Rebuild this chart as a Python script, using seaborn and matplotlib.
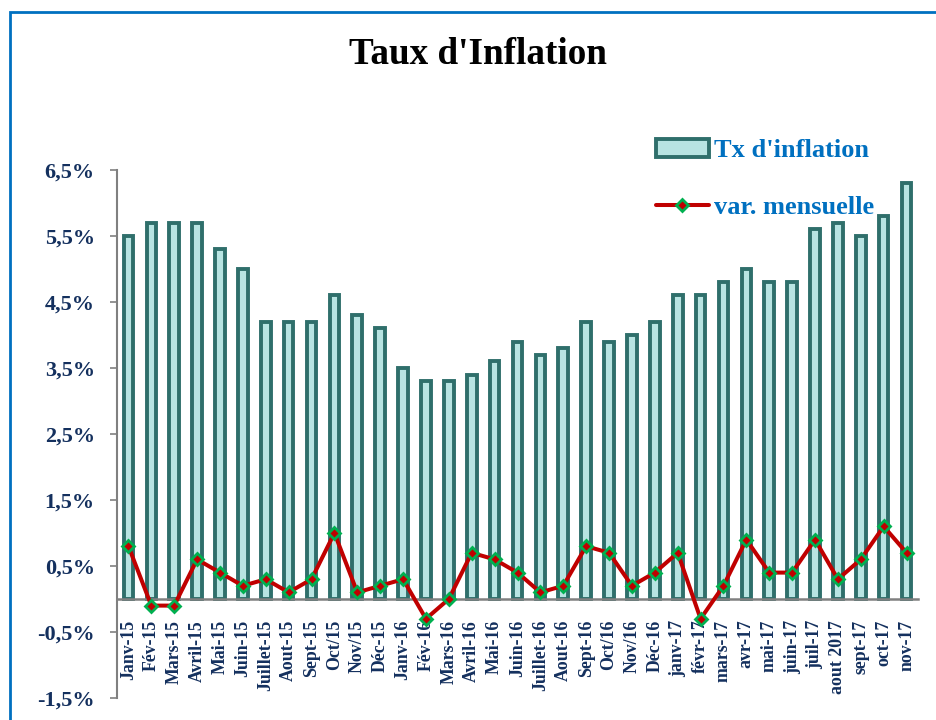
import numpy as np
import pandas as pd
import matplotlib
matplotlib.use('Agg')
import matplotlib.pyplot as plt
import seaborn as sns
from matplotlib.patches import Patch, Rectangle
from matplotlib.lines import Line2D
from matplotlib.ticker import FuncFormatter

# Data
mois = ['Janv-15', 'Fév-15', 'Mars-15', 'Avril-15', 'Mai-15', 'Juin-15',
        'Juillet-15', 'Aout-15', 'Sept-15', 'Oct/15', 'Nov/15', 'Déc-15',
        'Janv-16', 'Fév-16', 'Mars-16', 'Avril-16', 'Mai-16', 'Juin-16',
        'Juillet-16', 'Aout-16', 'Sept-16', 'Oct/16', 'Nov/16', 'Déc-16',
        'janv-17', 'févr-17', 'mars-17', 'avr-17', 'mai-17', 'juin-17',
        'juil-17', 'aout 2017', 'sept-17', 'oct-17', 'nov-17']
tx_inflation = [5.5, 5.7, 5.7, 5.7, 5.3, 5.0, 4.2, 4.2, 4.2, 4.6, 4.3, 4.1,
                3.5, 3.3, 3.3, 3.4, 3.6, 3.9, 3.7, 3.8, 4.2, 3.9, 4.0, 4.2,
                4.6, 4.6, 4.8, 5.0, 4.8, 4.8, 5.6, 5.7, 5.5, 5.8, 6.3]
var_mensuelle = [0.8, -0.1, -0.1, 0.6, 0.4, 0.2, 0.3, 0.1, 0.3, 1.0, 0.1, 0.2,
                 0.3, -0.3, 0.0, 0.7, 0.6, 0.4, 0.1, 0.2, 0.8, 0.7, 0.2, 0.4,
                 0.7, -0.3, 0.2, 0.9, 0.4, 0.4, 0.9, 0.3, 0.6, 1.1, 0.7]
y_ticks = [-1.5, -0.5, 0.5, 1.5, 2.5, 3.5, 4.5, 5.5, 6.5]

df = pd.DataFrame({'mois': mois, 'tx': tx_inflation, 'var': var_mensuelle})

# Colours
fill_col = '#B8E4E2'
edge_col = '#2F6F6B'
red = '#C00000'
green = '#00B050'
navy = '#14305E'
blue = '#0070C0'

sns.set_style('white')
plt.rcParams['font.family'] = ['Liberation Serif', 'DejaVu Serif']
plt.rcParams['font.weight'] = 'bold'

fig = plt.figure(figsize=(9.36, 7.2), dpi=100)
ax = fig.add_axes([117 / 936, 1 - 698 / 720, (918 - 117) / 936, (698 - 170) / 720])

sns.barplot(data=df, x='mois', y='tx', order=mois, color=fill_col, saturation=1,
            width=0.42, edgecolor=edge_col, linewidth=2.8, errorbar=None, ax=ax)
sns.pointplot(data=df, x='mois', y='var', order=mois, color=red, markers='D',
              errorbar=None, ax=ax, linewidth=2.9)
pt_line = ax.lines[-1]
pt_line.set_markerfacecolor(red)
pt_line.set_markeredgecolor(green)
pt_line.set_markersize(6)
pt_line.set_markeredgewidth(2)
pt_line.set_zorder(5)

ax.set_xlim(-0.5, len(mois) - 0.5)
ax.set_ylim(-1.5, 6.5)
ax.set_yticks(y_ticks)
ax.yaxis.set_major_formatter(FuncFormatter(lambda v, p: f'{v:.1f}%'.replace('.', ',')))
ax.set_xlabel('')
ax.set_ylabel('')

for s in ['top', 'right']:
    ax.spines[s].set_visible(False)
ax.spines['left'].set_color('#808080')
ax.spines['left'].set_linewidth(1.5)
ax.spines['bottom'].set_position(('data', 0))
ax.spines['bottom'].set_color('#808080')
ax.spines['bottom'].set_linewidth(1.8)
ax.spines['bottom'].set_zorder(4)

ax.tick_params(axis='y', direction='out', length=5, width=1.2, color='#808080',
               pad=11, labelsize=16, labelcolor=navy, left=True)
ax.tick_params(axis='x', length=0, pad=15, labelsize=12.8, labelcolor=navy)
for lab in ax.get_xticklabels():
    lab.set_rotation(90)
    lab.set_fontweight('bold')
for lab in ax.get_yticklabels():
    lab.set_fontweight('bold')

# Legend
handles = [Patch(facecolor=fill_col, edgecolor=edge_col, linewidth=2.8),
           Line2D([0], [0], color=red, lw=2.9, marker='D', markersize=6,
                  markerfacecolor=red, markeredgecolor=green, markeredgewidth=2)]
leg = fig.legend(handles, ["Tx d'inflation", 'var. mensuelle'],
                 loc='upper left', bbox_to_anchor=(656 / 936, 1 - 139 / 720),
                 frameon=False, borderpad=0, borderaxespad=0,
                 handlelength=2.0, handletextpad=0.2, labelspacing=1.25,
                 prop={'family': 'Liberation Serif', 'weight': 'bold', 'size': 19})
for t in leg.get_texts():
    t.set_color(blue)

fig.text(478 / 936, 1 - 55 / 720, "Taux d'Inflation", ha='center', va='center',
         fontsize=26.7, fontweight='bold', color='black')

# Blue outer frame (cut off at right and bottom as in the reference)
fig.add_artist(Rectangle((10 / 936, -0.2), 1.2, 1.2 - 12 / 720,
                         transform=fig.transFigure, fill=False,
                         edgecolor=blue, linewidth=2, clip_on=False))

fig.savefig('out.png', dpi=100, facecolor='white')
